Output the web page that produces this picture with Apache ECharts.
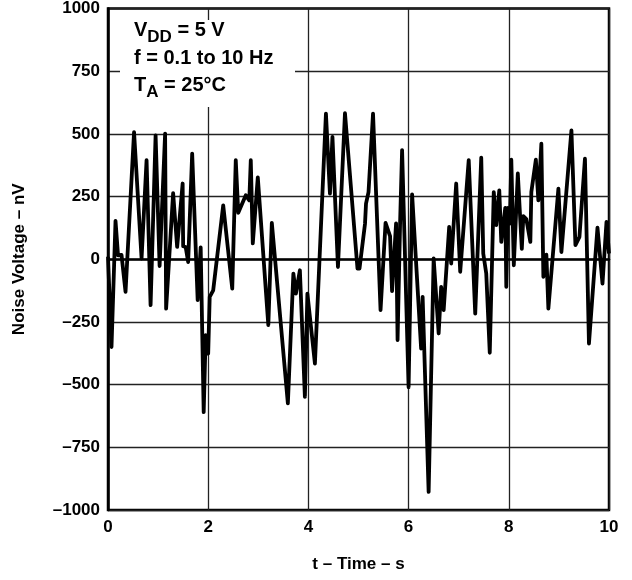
<!DOCTYPE html>
<html>
<head>
<meta charset="utf-8">
<script src="https://cdn.jsdelivr.net/npm/echarts@6/dist/echarts.min.js"></script>
<style>html,body{margin:0;padding:0;background:#fff;}#c{width:632px;height:580px;}</style>
</head>
<body>
<div id="c"></div>
<script>
var times = [0.00,0.07,0.15,0.20,0.27,0.35,0.52,0.67,0.77,0.85,0.95,1.03,1.14,1.16,1.30,1.38,1.49,1.50,1.55,1.60,
1.68,1.79,1.85,1.91,1.95,2.00,2.03,2.10,2.30,2.48,2.55,2.60,2.75,2.82,2.85,2.89,2.99,3.20,3.27,3.59,
3.70,3.75,3.83,3.93,3.98,4.13,4.35,4.43,4.48,4.59,4.73,4.98,5.02,5.13,5.15,5.20,5.29,5.44,5.54,5.63,
5.67,5.75,5.78,5.83,5.87,6.00,6.07,6.25,6.28,6.40,6.50,6.60,6.65,6.70,6.81,6.85,6.95,7.03,7.20,7.33,
7.45,7.49,7.55,7.62,7.70,7.75,7.81,7.85,7.93,7.95,7.98,8.02,8.05,8.10,8.18,8.26,8.29,8.35,8.43,8.45,
8.54,8.59,8.65,8.69,8.75,8.79,8.99,9.05,9.25,9.33,9.41,9.52,9.60,9.77,9.87,9.95,10.00];
var noise = [10,-350,153,16,17,-130,507,3,395,-183,494,-27,501,-197,264,49,302,52,49,-11,
421,-163,47,-610,-303,-376,-150,-124,215,-117,395,185,255,235,395,63,326,-263,145,-575,
-57,-137,-44,-549,-137,-416,581,262,488,-31,583,-37,-37,142,222,268,581,-203,145,92,
-127,143,-322,142,435,-510,259,-356,-150,-928,3,-296,-110,-203,129,-17,302,-50,395,-217,
405,23,-57,-373,268,136,275,69,205,-110,205,142,397,-24,342,41,172,160,69,268,
397,235,461,-70,18,-197,282,29,514,56,89,401,-336,126,-97,149,23];
var xTicks = [0,2,4,6,8,10];
var yTicks = [-1000,-750,-500,-250,0,250,500,750,1000];

var pts = times.map(function(t,i){return [t, noise[i]];});
var FONT = '"Liberation Sans", Arial, sans-serif';
var chart = echarts.init(document.getElementById('c'), null, {renderer:'canvas'});
function fmt(v){ return String(v).replace('-', '\u2013'); }
var rich = {
  b:{fontFamily:FONT, fontWeight:'bold', fontSize:20, fill:'#000', lineHeight:24, verticalAlign:'bottom'},
  s:{fontFamily:FONT, fontWeight:'bold', fontSize:17, fill:'#000', lineHeight:24, verticalAlign:'bottom', padding:[0,0,-6,0]}
};
chart.setOption({
  animation:false,
  backgroundColor:'#fff',
  grid:{left:108, right:23, top:8, bottom:70, show:true, borderColor:'#000', borderWidth:2.5, backgroundColor:'transparent'},
  xAxis:{
    type:'value', min:xTicks[0], max:xTicks[xTicks.length-1], interval:2,
    name:'t \u2013 Time \u2013 s', nameLocation:'middle', nameGap:46,
    nameTextStyle:{fontFamily:FONT, fontWeight:'bold', fontSize:17, color:'#000'},
    axisLine:{show:true, lineStyle:{color:'#000', width:2.5}},
    axisTick:{show:false},
    axisLabel:{fontFamily:FONT, fontWeight:'bold', fontSize:17, color:'#000', margin:9, formatter:fmt},
    splitLine:{show:true, lineStyle:{color:'#222', width:1.3}}
  },
  yAxis:{
    type:'value', min:yTicks[0], max:yTicks[yTicks.length-1], interval:250,
    name:'Noise Voltage \u2013 nV', nameLocation:'middle', nameGap:80,
    nameTextStyle:{fontFamily:FONT, fontWeight:'bold', fontSize:17, color:'#000'},
    axisLine:{show:true, lineStyle:{color:'#000', width:2.5}},
    axisTick:{show:false},
    axisLabel:{fontFamily:FONT, fontWeight:'bold', fontSize:17, color:'#000', margin:8, formatter:fmt},
    splitLine:{show:true, lineStyle:{color:'#222', width:1.3}}
  },
  graphic:[
    {type:'rect', left:120, top:20, shape:{width:175, height:87}, style:{fill:'#fff'}, z:100},
    {type:'text', left:134, top:20, z:101, style:{text:'{b|V}{s|DD}{b| = 5 V}', rich:rich}},
    {type:'text', left:134, top:48, z:101, style:{text:'{b|f = 0.1 to 10 Hz}', rich:rich}},
    {type:'text', left:134, top:75, z:101, style:{text:'{b|T}{s|A}{b| = 25\u00b0C}', rich:rich}}
  ],
  series:[{
    type:'line', data:pts, showSymbol:false, symbol:'none',
    lineStyle:{color:'#000', width:3.8, join:'round'}, z:50
  }]
});
</script>
</body>
</html>
